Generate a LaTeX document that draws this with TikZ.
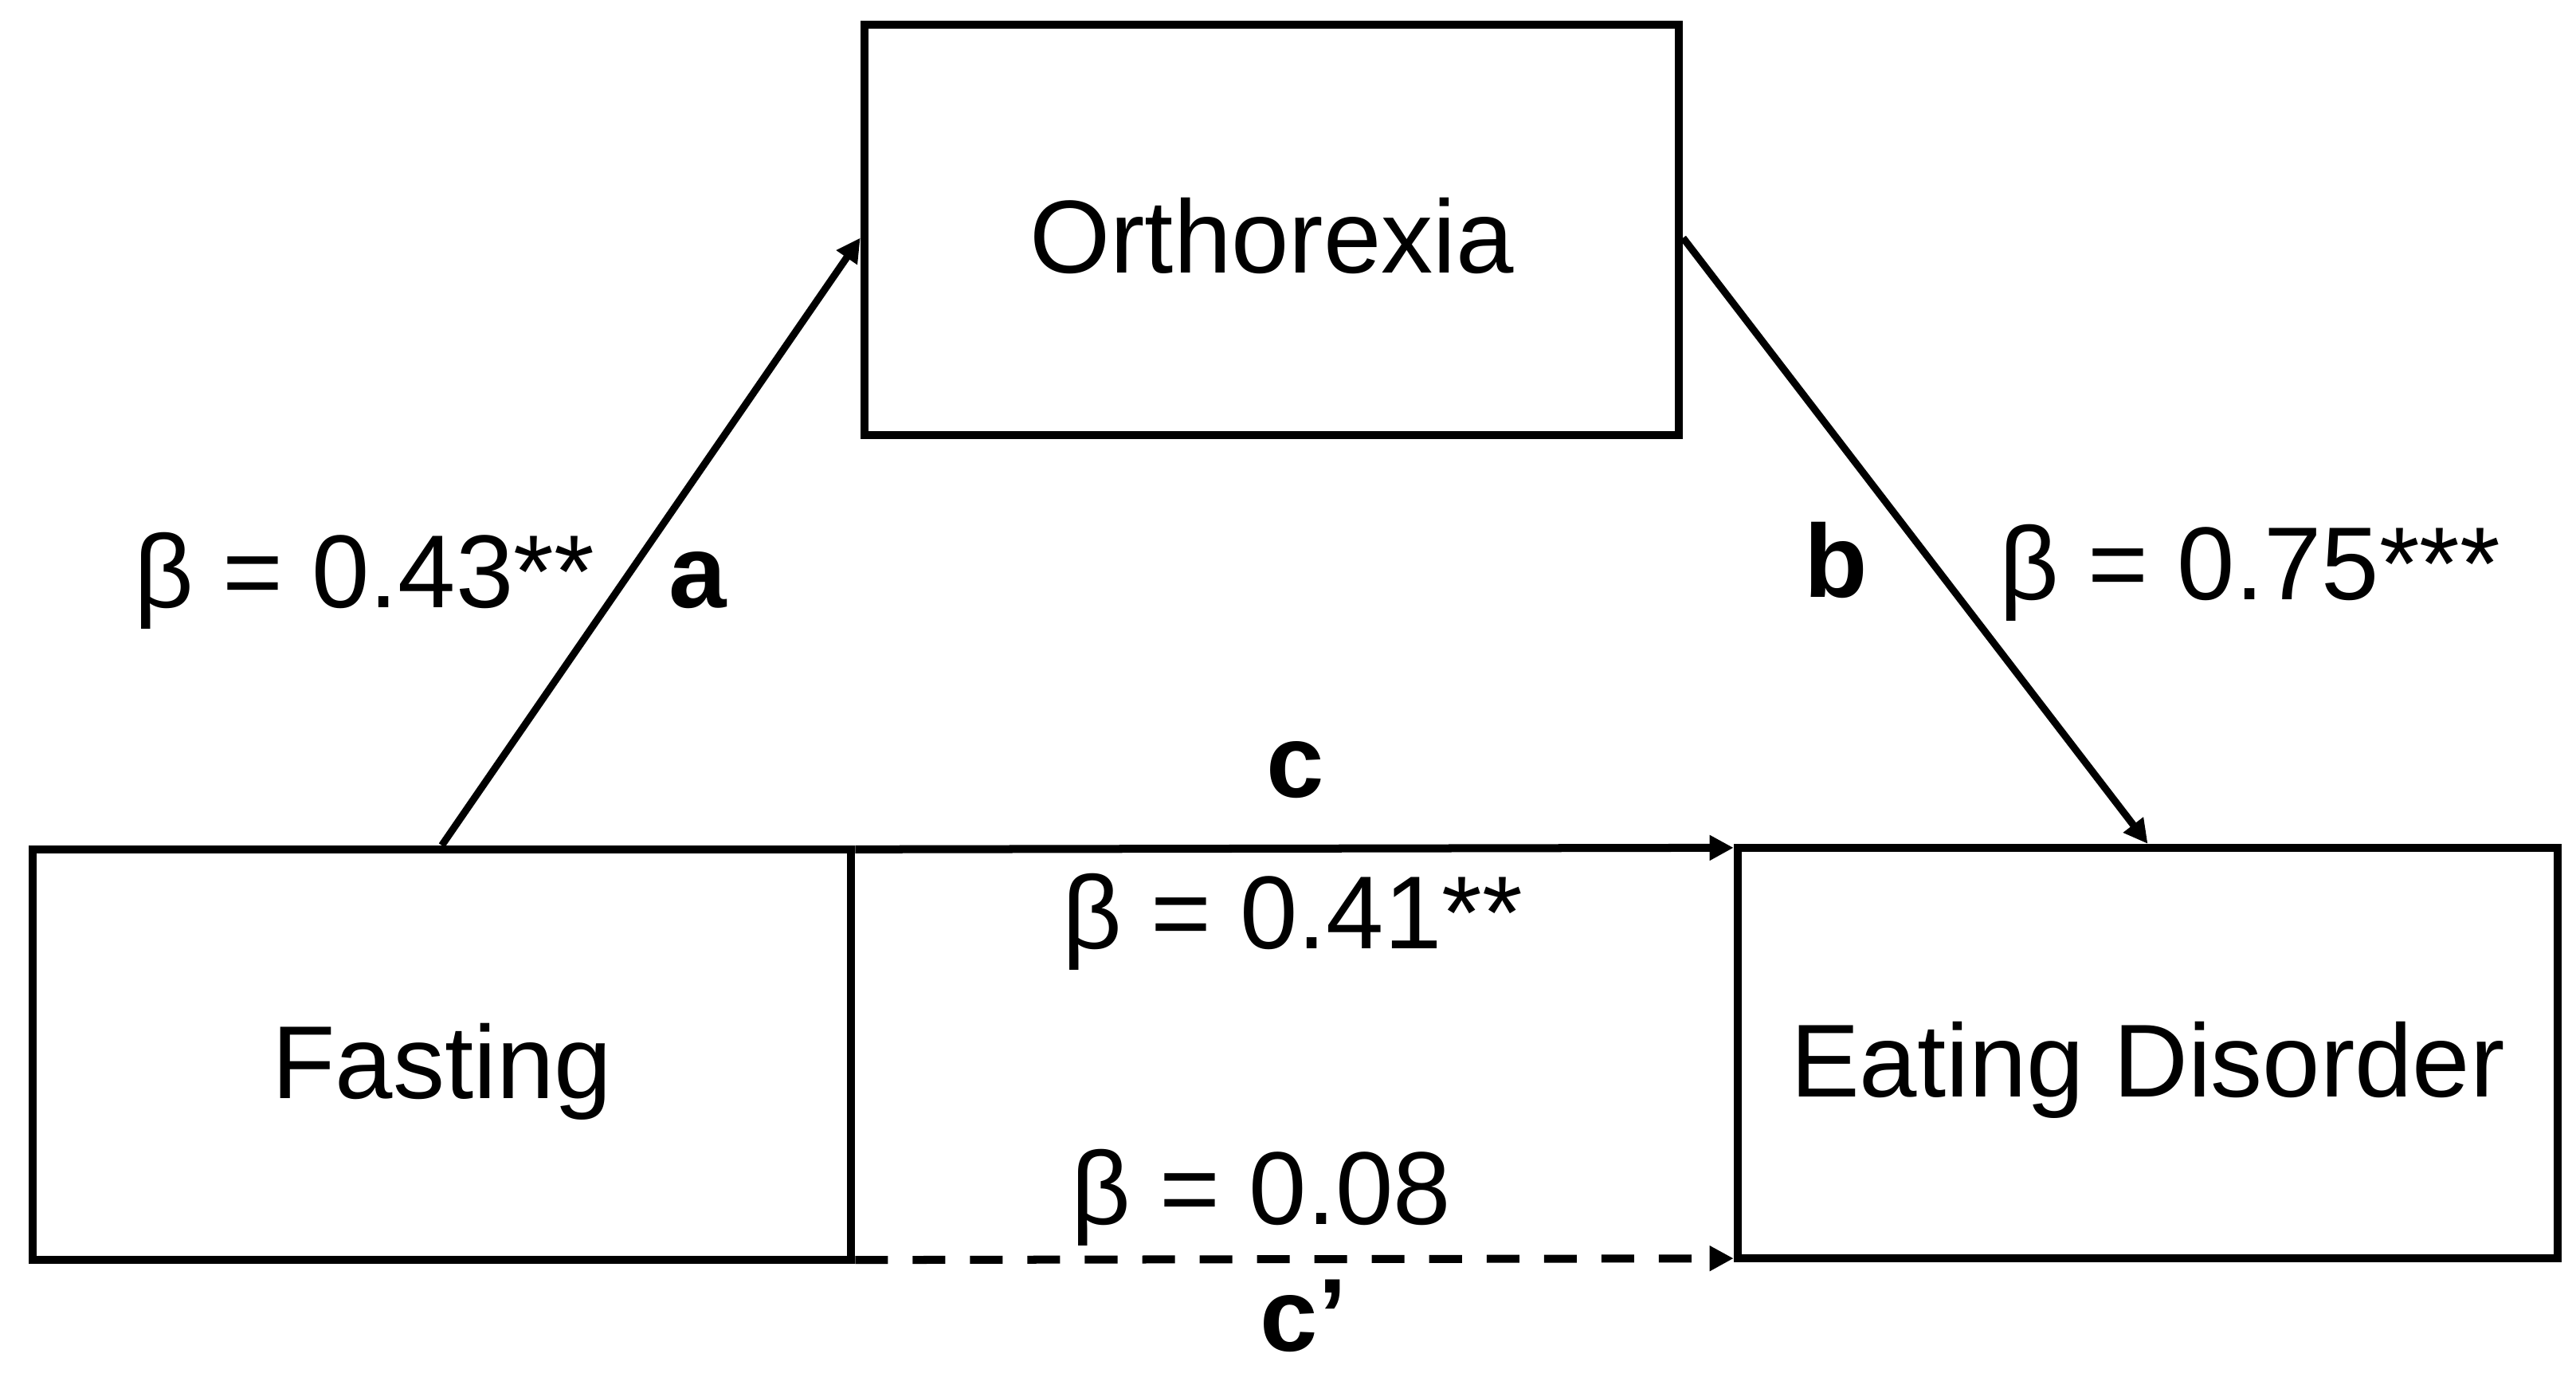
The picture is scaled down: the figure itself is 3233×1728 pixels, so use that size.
\documentclass[tikz,border=0pt]{standalone}
\usepackage{fontspec}
\setmainfont{Liberation Sans}
\usetikzlibrary{arrows.meta}
\begin{document}
\begin{tikzpicture}[x=0.01cm,y=-0.01cm,
  every node/.style={font=\fontsize{37}{44}\selectfont, inner sep=0pt},
  box/.style={draw, line width=0.1cm, text height=31pt, text depth=0pt},
  conn/.style={line width=0.09cm, -{Triangle[length=0.3cm,width=0.3cm]}},
  lbl/.style={anchor=base},
  blbl/.style={anchor=base, font=\fontsize{37}{44}\selectfont\bfseries}]
\useasboundingbox (0,0) rectangle (3233,1728);
\fill[white] (0,0) rectangle (3233,1728);
\node[box, minimum width=10.22cm, minimum height=5.15cm] (O) at (1596,288.5) {Orthorexia};
\node[box, minimum width=10.27cm, minimum height=5.15cm] (F) at (554.5,1323.5) {Fasting};
\node[box, minimum width=10.29cm, minimum height=5.15cm] (E) at (2695.5,1321.5) {Eating Disorder};
\draw[conn] (F.north) -- ([yshift=-0.1cm]O.west);
\draw[conn] ([yshift=-0.1cm]O.east) -- (E.north);
\draw[conn, line width=0.1cm] ([yshift=-0.05cm]F.north east) -- ([yshift=-0.05cm]E.north west);
\draw[conn, line width=0.1cm, dash pattern=on 0.41cm off 0.31cm] ([yshift=0.05cm]F.south east) -- ([yshift=0.05cm]E.south west);
\node[lbl] (la) at (457,763) {β = 0.43**};
\node[blbl] (a) at (876,763) {a};
\node[blbl] (b) at (2304,750) {b};
\node[lbl] (lb) at (2824,753) {β = 0.75***};
\node[blbl] (c) at (1626,1000) {c};
\node[lbl] (lc) at (1622,1190) {β = 0.41**};
\node[lbl] (lcp) at (1583,1536) {β = 0.08};
\node[blbl] (cp) at (1636,1695) {c’};
\end{tikzpicture}
\end{document}
